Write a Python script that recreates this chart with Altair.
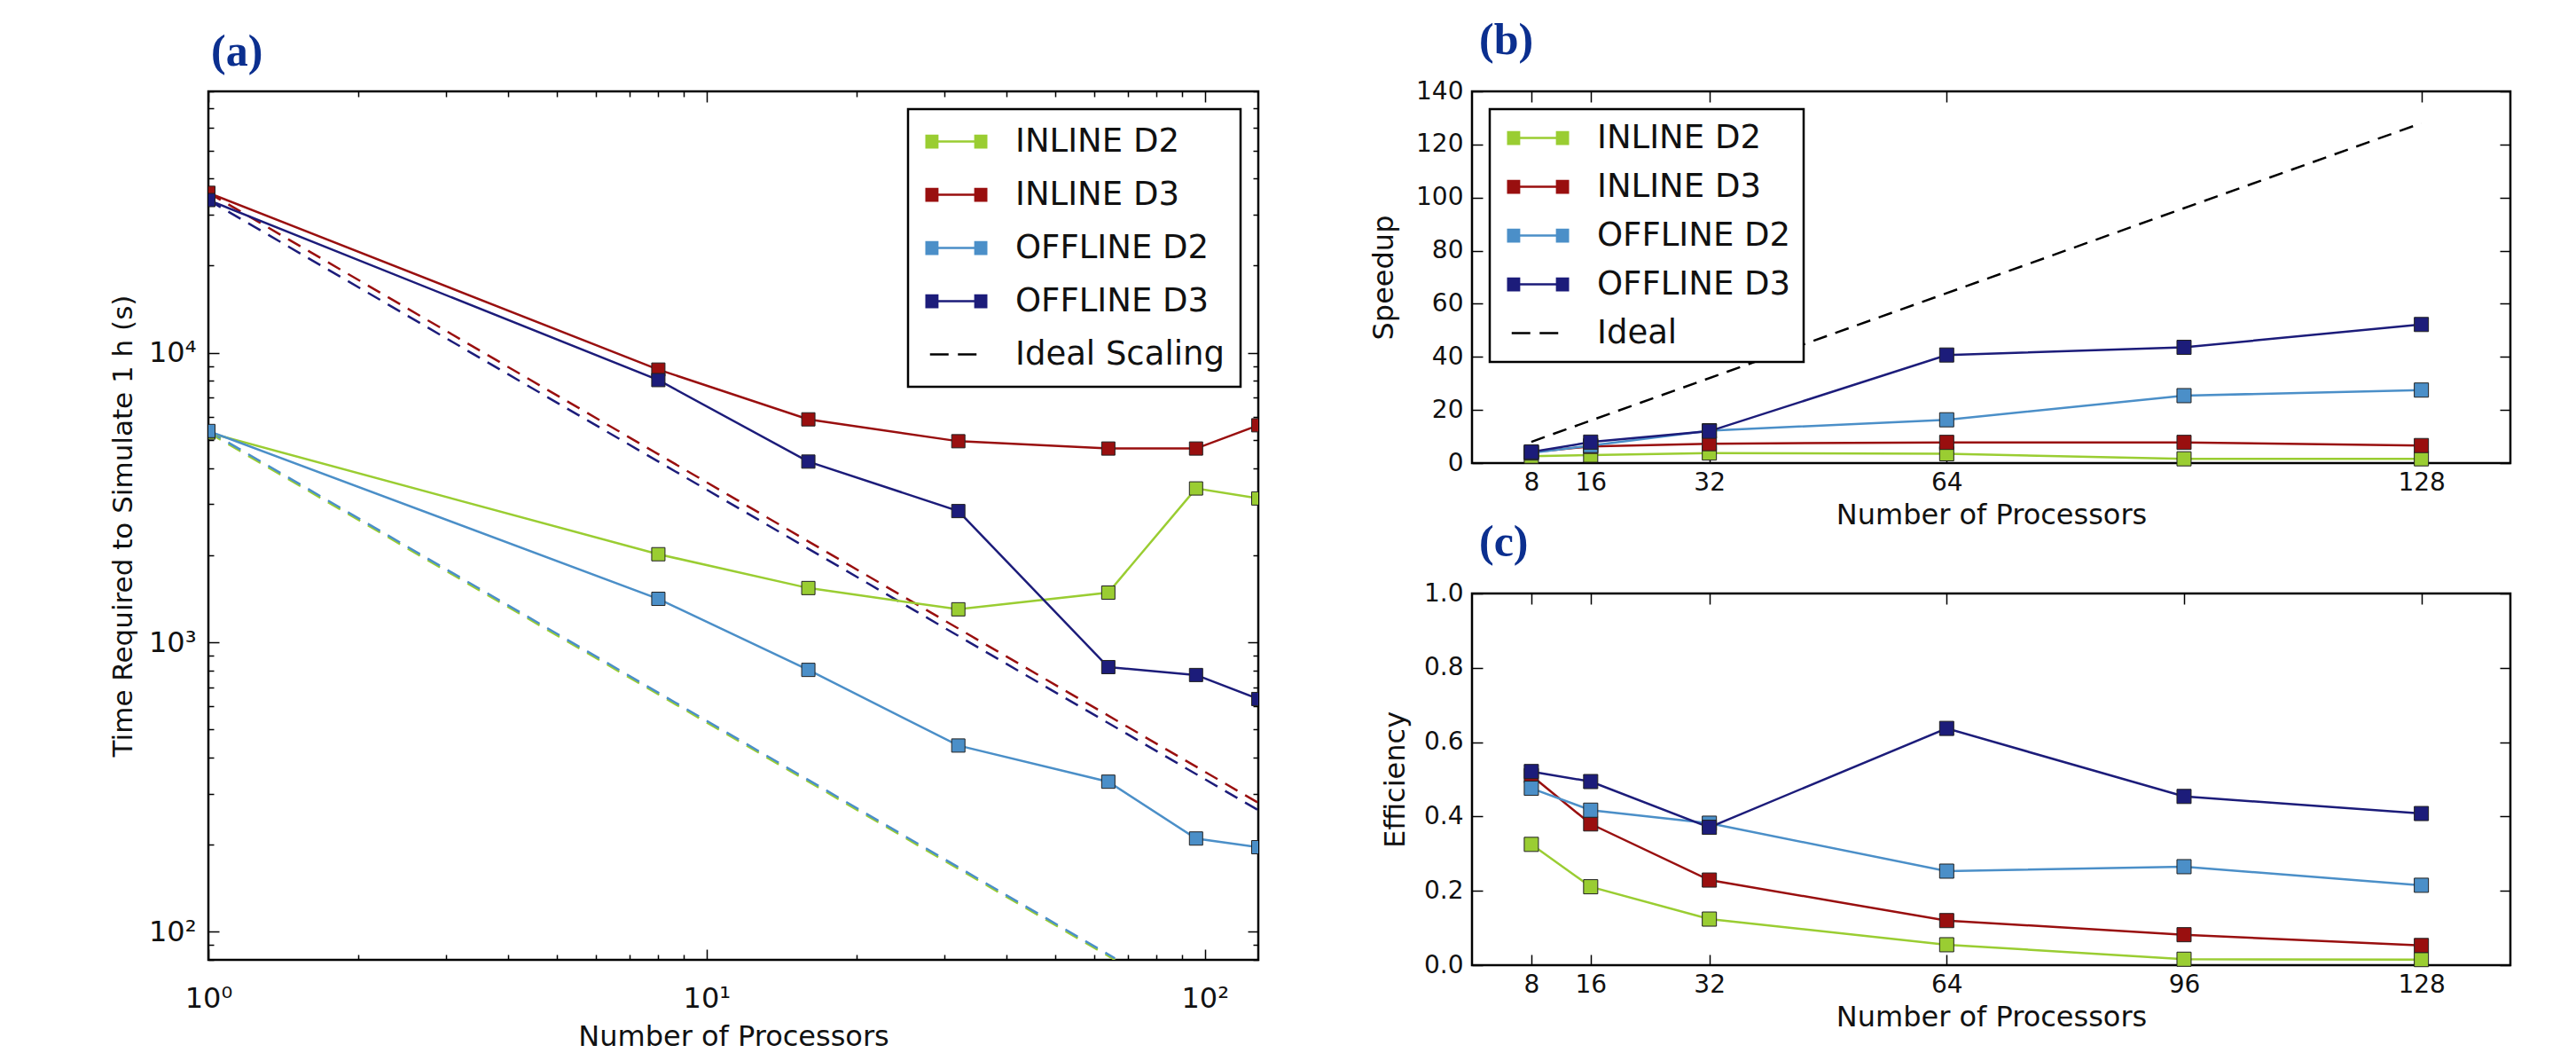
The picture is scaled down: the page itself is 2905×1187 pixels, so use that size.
import altair as alt
import pandas as pd

FONT = "DejaVu Sans"
SERIES = ["INLINE D2", "INLINE D3", "OFFLINE D2", "OFFLINE D3"]
COLORS = ["#9acd32", "#990f0f", "#4b8fc8", "#1c1c7a"]

# ---------------- panel (a): time to simulate 1 h ----------------
procs_a = [1, 8, 16, 32, 64, 96, 128]
time_inline_d2 = [5300, 2015, 1540, 1300, 1485, 3400, 3140]
time_inline_d3 = [35700, 8750, 5890, 4950, 4670, 4670, 5620]
time_offline_d2 = [5370, 1413, 803, 440, 330, 210, 196]
time_offline_d3 = [33700, 8050, 4210, 2840, 821, 771, 637]

# ideal-scaling reference lines (end points)
ideal_x_d3 = [1, 128]
ideal_inline_d3 = [35700, 279]
ideal_offline_d3 = [33700, 263]
ideal_x_d2 = [1, 66]
ideal_inline_d2 = [5300, 80]
ideal_offline_d2 = [5370, 81]

# ---------------- panels (b), (c) ----------------
procs_bc = [8, 16, 32, 64, 96, 128]
speedup_inline_d2 = [2.6, 3.0, 3.8, 3.5, 1.6, 1.6]
speedup_inline_d3 = [4.1, 6.3, 7.3, 7.8, 7.8, 6.6]
speedup_offline_d2 = [3.8, 6.6, 12.2, 16.3, 25.4, 27.5]
speedup_offline_d3 = [4.2, 7.9, 12.0, 40.7, 43.6, 52.2]
ideal_b_x = [8, 128]
ideal_b = [8, 128]

eff_inline_d2 = [0.325, 0.211, 0.124, 0.055, 0.016, 0.015]
eff_inline_d3 = [0.51, 0.380, 0.229, 0.120, 0.082, 0.053]
eff_offline_d2 = [0.476, 0.417, 0.382, 0.253, 0.265, 0.215]
eff_offline_d3 = [0.521, 0.494, 0.371, 0.637, 0.454, 0.408]

# axis tick positions
a_x_major = [1, 10, 100]
a_x_minor = [2, 3, 4, 5, 6, 7, 8, 9, 20, 30, 40, 50, 60, 70, 80, 90]
a_y_major = [100, 1000, 10000]
a_y_minor = [80, 90, 200, 300, 400, 500, 600, 700, 800, 900,
             2000, 3000, 4000, 5000, 6000, 7000, 8000, 9000,
             20000, 30000, 40000, 50000, 60000, 70000, 80000]
b_x_ticks = [8, 16, 32, 64, 128]
b_y_ticks = [0, 20, 40, 60, 80, 100, 120, 140]
c_x_ticks = [8, 16, 32, 64, 96, 128]
c_y_ticks = [0, 0.2, 0.4, 0.6, 0.8, 1.0]


def long_df(xs, series_lists, names):
    rows = []
    for name, vals, xv in zip(names, series_lists, xs):
        for p, v in zip(xv, vals):
            rows.append({"series": name, "procs": p, "value": v})
    return pd.DataFrame(rows)


df_a = long_df([procs_a] * 4, [time_inline_d2, time_inline_d3, time_offline_d2, time_offline_d3], SERIES)
df_a_ideal = long_df([ideal_x_d2, ideal_x_d3, ideal_x_d2, ideal_x_d3],
                     [ideal_inline_d2, ideal_inline_d3, ideal_offline_d2, ideal_offline_d3], SERIES)
df_b = long_df([procs_bc] * 4, [speedup_inline_d2, speedup_inline_d3, speedup_offline_d2, speedup_offline_d3], SERIES)
df_b_ideal = long_df([ideal_b_x], [ideal_b], ["Ideal"])
df_c = long_df([procs_bc] * 4, [eff_inline_d2, eff_inline_d3, eff_offline_d2, eff_offline_d3], SERIES)

# legend glyphs: line with a square marker at each end, and a two-dash glyph
SQ_PATH = "M-2,-0.45H-1.15V0.45H-2Z M1.15,-0.45H2V0.45H1.15Z M-1.15,-0.07H1.15V0.07H-1.15Z"
DASH_PATH = "M-1.7,-0.07H-0.5V0.07H-1.7Z M0.1,-0.07H1.3V0.07H0.1Z"


def lbl_axis(orient, title, values, label_pad, extent, title_pad, label_expr=None, fmt=None,
             label_size=28, title_size=32):
    kw = dict(orient=orient, title=title, values=values, ticks=False, tickSize=0, domain=False, grid=False,
              labelFont=FONT, labelFontSize=label_size, labelColor="#111", labelPadding=label_pad,
              labelFlush=False, labelOverlap=False,
              titleFont=FONT, titleFontSize=title_size, titleFontWeight="normal", titleColor="#111",
              titlePadding=title_pad, minExtent=extent, maxExtent=extent)
    if label_expr:
        kw["labelExpr"] = label_expr
    if fmt:
        kw["format"] = fmt
    return alt.Axis(**kw)


def tick_axis(orient, values, size):
    return alt.Axis(orient=orient, values=values, labels=False, domain=False, grid=False, title=None,
                    ticks=True, tickSize=size, offset=-size, tickColor="black", tickWidth=1.5,
                    minExtent=0, maxExtent=0)


def make_legend(orient, row_pad, pad, sym_off):
    return alt.Legend(
        title=None, orient=orient, offset=20, padding=pad, rowPadding=row_pad,
        labelFont=FONT, labelFontSize=37, labelColor="#111", labelLimit=500,
        fillColor="white", strokeColor="black", cornerRadius=0,
        symbolSize=1225, symbolOffset=sym_off, labelOffset=48, symbolOpacity=1,
        symbolStrokeWidth=0,
    )


def panel(df_main, df_ideal, xs, ys, xlab, ylab, xmaj, ymaj, xmin, ymin, legend, title,
          width, height, clip, dom, rng, sq_size):
    cscale = alt.Scale(domain=dom, range=rng)

    def X(axis):
        return alt.X("procs:Q", scale=xs, axis=axis)

    def Y(axis):
        return alt.Y("value:Q", scale=ys, axis=axis)

    def C():
        if legend is None:
            return alt.Color("series:N", scale=cscale, legend=None)
        return alt.Color("series:N", scale=cscale)

    layers = []
    if legend is not None:
        # legend-only layer (draws nothing): gives the line-with-squares / dashed glyphs
        shapes = [SQ_PATH] * (len(dom) - 1) + [DASH_PATH]
        layers.append(
            alt.Chart(df_main).transform_filter("false").mark_point(filled=True, opacity=1).encode(
                x=alt.X("procs:Q", scale=xs, axis=None), y=alt.Y("value:Q", scale=ys, axis=None),
                color=alt.Color("series:N", scale=cscale, legend=legend),
                shape=alt.Shape("series:N", scale=alt.Scale(domain=dom, range=shapes), legend=legend))
        )
    if df_ideal is not None:
        layers.append(
            alt.Chart(df_ideal).mark_line(strokeDash=[16, 10], strokeWidth=2.5, clip=clip).encode(
                x=X(tick_axis("top", xmaj, 12)), y=Y(tick_axis("right", ymaj, 12)), color=C(),
                detail="series:N")
        )
    else:
        layers.append(
            alt.Chart(df_main).mark_line(opacity=0).encode(
                x=X(tick_axis("top", xmaj, 12)), y=Y(tick_axis("right", ymaj, 12)), color=C())
        )
    layers.append(
        alt.Chart(df_main).mark_line(strokeWidth=2.5, clip=clip).encode(
            x=X(xlab), y=Y(ylab), color=C())
    )
    layers.append(
        alt.Chart(df_main).mark_square(size=sq_size, filled=True, opacity=1, stroke="#222",
                                       strokeWidth=1, clip=clip).encode(
            x=X(tick_axis("bottom", xmaj, 12)), y=Y(tick_axis("left", ymaj, 12)), color=C())
    )
    if xmin is not None:
        layers.append(
            alt.Chart(df_main).mark_line(opacity=0).encode(
                x=X(tick_axis("bottom", xmin, 6)), y=Y(tick_axis("left", ymin, 6)), color=C())
        )
        layers.append(
            alt.Chart(df_main).mark_line(opacity=0).encode(
                x=X(tick_axis("top", xmin, 6)), y=Y(tick_axis("right", ymin, 6)), color=C())
        )
    return alt.layer(*layers).resolve_axis(x="independent", y="independent").properties(
        width=width, height=height, title=title)


def ptitle(text, dx):
    return alt.TitleParams(text=text, anchor="start", frame="group", font="Liberation Serif",
                           fontSize=50, fontWeight="bold", color="#0b2f8f", offset=18, dx=dx)


sup = ("datum.value == 1 ? '10\u2070' : datum.value == 10 ? '10\u00b9' : datum.value == 100 ? '10\u00b2'"
       " : datum.value == 1000 ? '10\u00b3' : '10\u2074'")

pa = panel(
    df_a, df_a_ideal,
    alt.Scale(type="log", domain=[1, 128], nice=False),
    alt.Scale(type="log", domain=[80, 80000], nice=False),
    lbl_axis("bottom", "Number of Processors", a_x_major, 28, 60, 11, label_expr=sup, label_size=32),
    lbl_axis("left", "Time Required to Simulate 1 h (s)", a_y_major, 14, 70, 10, label_expr=sup,
             label_size=32, title_size=31),
    a_x_major, a_y_major, a_x_minor, a_y_minor,
    make_legend("top-right", 22, 18, 18), ptitle("(a)", 3),
    1184, 979, True, SERIES + ["Ideal Scaling"], COLORS + ["black"], 225,
)

pb = panel(
    df_b, df_b_ideal,
    alt.Scale(domain=[0, 140], nice=False, zero=False),
    alt.Scale(domain=[0, 140], nice=False),
    lbl_axis("bottom", "Number of Processors", b_x_ticks, 8, 36, 7),
    lbl_axis("left", "Speedup", b_y_ticks, 10, 64, 19),
    b_x_ticks, b_y_ticks, None, None,
    make_legend("top-left", 17, 14, 22), ptitle("(b)", 8),
    1171, 419, False, SERIES + ["Ideal"], COLORS + ["black"], 256,
)

pc = panel(
    df_c, None,
    alt.Scale(domain=[0, 140], nice=False, zero=False),
    alt.Scale(domain=[0, 1], nice=False),
    lbl_axis("bottom", "Number of Processors", c_x_ticks, 8, 36, 7),
    lbl_axis("left", "Efficiency", c_y_ticks, 10, 54, 16, fmt=".1f"),
    c_x_ticks, c_y_ticks, None, None,
    None, ptitle("(c)", 8),
    1171, 419, False, SERIES, COLORS, 256,
)

right = alt.vconcat(pb, pc, spacing=147, bounds="flush").resolve_scale(color="independent", shape="independent")
chart = alt.hconcat(pa, right, spacing=241, bounds="flush").resolve_scale(
    color="independent", shape="independent").properties(
    padding={"left": 113, "top": 11, "right": 10, "bottom": 0}
).configure(background="white", font=FONT
).configure_view(stroke="black", strokeWidth=2.5
).configure_legend(strokeWidth=2.5)

chart.save("out.html", embed_options={"renderer": "svg", "actions": False})
